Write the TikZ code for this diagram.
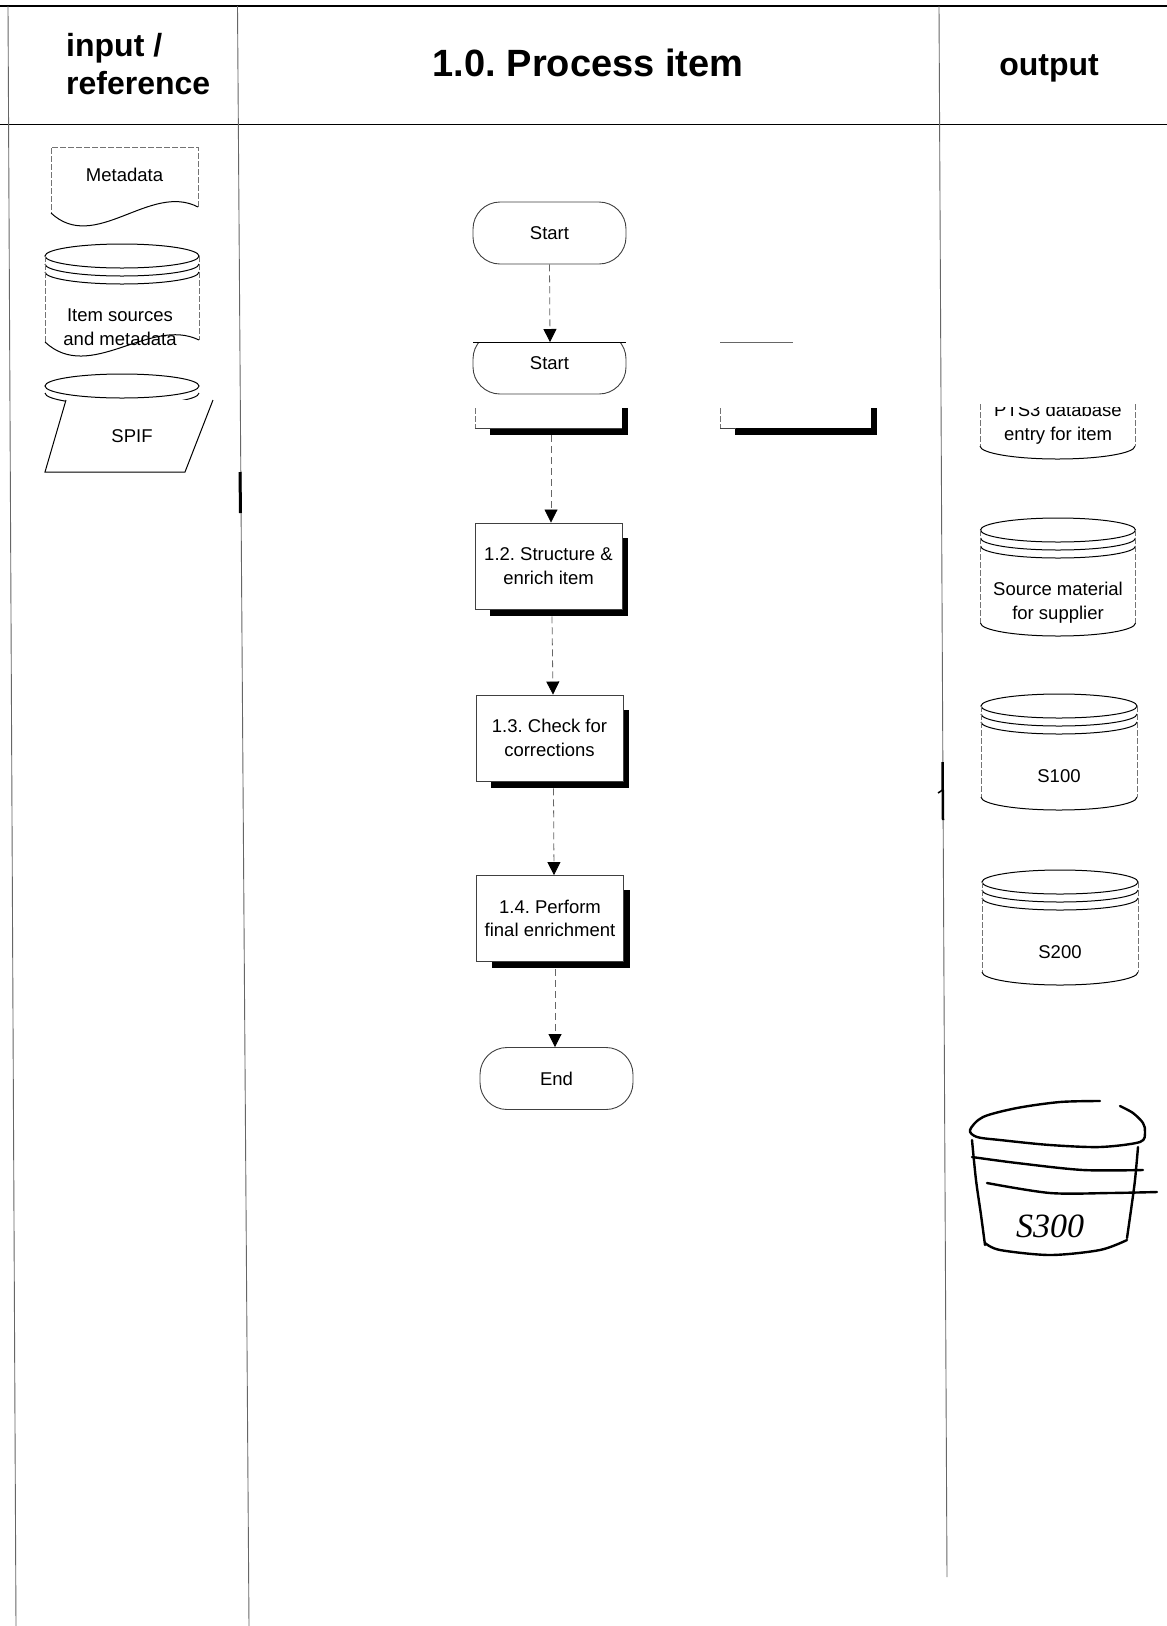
\documentclass[tikz,border=0pt]{standalone}
\usepackage{fontspec}
\setmainfont{Liberation Sans}
\newfontfamily\handfont{Liberation Serif}
\usetikzlibrary{arrows.meta,calc}
\frenchspacing

% storage drum: #1 centre x, #2 lid centre y, #3 base centre y, #4 half width
\newcommand\dbdrum[4]{%
  \draw[rim] (#1,#2) ellipse [x radius=#4pt, y radius=12pt];
  \draw[rim] ({#1-#4},{#2+8}) arc [start angle=180, end angle=360, x radius=#4pt, y radius=12pt];
  \draw[rim] ({#1-#4},{#2+16}) arc [start angle=180, end angle=360, x radius=#4pt, y radius=12pt];
  \draw[faint] ({#1-#4},#2) -- ({#1-#4},#3);
  \draw[faint] ({#1+#4},#2) -- ({#1+#4},#3);
  \draw[rim] ({#1-#4},#3) arc [start angle=180, end angle=360, x radius=#4pt, y radius=13pt];
}

\begin{document}
\begin{tikzpicture}[x=1pt,y=-1pt,
  lbl/.style={font=\fontsize{18.5}{24}\selectfont, align=center, inner sep=0pt},
  hdr/.style={font=\fontsize{32}{38.5}\selectfont\bfseries, inner sep=0pt},
  stepbox/.style={draw=black!75, line width=0.9pt, fill=white, minimum width=147pt,
    minimum height=86pt, inner sep=0pt, align=center, font=\fontsize{18.5}{23.5}\selectfont},
  term/.style={draw=black!75, line width=0.9pt, fill=white, rounded corners=27pt,
    minimum width=153pt, minimum height=62pt, inner sep=0pt, font=\fontsize{18.5}{23.5}\selectfont},
  flow/.style={draw=black!60, line width=0.8pt, dash pattern=on 7pt off 4pt,
    -{Triangle[length=13pt,width=13pt,color=black]}},
  rim/.style={draw=black, line width=1pt},
  faint/.style={draw=black!55, line width=0.8pt, dash pattern=on 6pt off 2pt},
  lane/.style={draw=black!60, line width=0.9pt},
  rule/.style={draw=black, line width=1.6pt},
  sketch/.style={draw=black, line width=2.4pt, line cap=round, line join=round},
]
\useasboundingbox (0,0) rectangle (1167,1626);

% ---- swimlane frame ----
\draw[rule] (0,6) -- (1167,6);
\draw[rule] (0,124.5) -- (1167,124.5);
\draw[lane] (8,6) -- (16,1626);
\draw[lane] (237.5,6) -- (249,1626);
\draw[lane] (939,6) -- (947,1577);
\draw[line width=3pt] (240,472) -- (240.5,513);
\draw[line width=2.5pt] (942.5,762) -- (943,820);
\draw[line width=1.5pt] (938,793) -- (942.5,790);

% ---- lane headings ----
\node[hdr, anchor=west, align=left] (hin) at (66,64) {input /\\reference};
\node[font=\fontsize{38}{38}\selectfont\bfseries, inner sep=0pt] (hproc) at (588,63) {1.0. Process item};
\node[hdr] (hout) at (1049,68) {output};

% ---- inputs ----
\draw[faint] (198,207) -- (198,147) -- (51,147) -- (51,213);
\draw[rim] (51,213) .. controls (95,254) and (150,182) .. (198,207);
\node[lbl] (meta) at (124.5,175) {Metadata};

\draw[rim] (122,256) ellipse [x radius=77pt, y radius=12pt];
\draw[rim] (45,264) arc [start angle=180, end angle=360, x radius=77pt, y radius=12pt];
\draw[rim] (45,272) arc [start angle=180, end angle=360, x radius=77pt, y radius=12pt];
\draw[faint] (45,256) -- (45,342);
\draw[faint] (199,256) -- (199,340);
\draw[rim] (45,342) .. controls (90,384) and (150,316) .. (199,340);
\node[lbl] (items) at (120,327) {Item sources\\and metadata};

\draw[rim] (122,386) ellipse [x radius=77pt, y radius=12pt];
\draw[rim] (45,393) arc [start angle=180, end angle=360, x radius=77pt, y radius=12pt];
\fill[white] (66,400) -- (213,400) -- (185,472) -- (45,472) -- cycle;
\draw[rim] (66,400) -- (45,472) -- (185,472) -- (213,400);
\node[lbl] (spif) at (132,436) {SPIF};

% ---- process flow ----
\node[term] (start) at (549.5,233) {Start};
\begin{scope}
  \clip (460,342) rectangle (640,400);
  \node[term] (start2) at (549.5,363) {Start};
\end{scope}
\draw[rim] (473,342) -- (626,342);
\coordinate (s2top) at (550,342);

% truncated boxes under the second terminal
\fill (490,408) rectangle (628,435);
\fill[white] (475,404) rectangle (622,428);
\draw[faint] (475,408) -- (475,428);
\draw[draw=black!75, line width=0.9pt] (475,428) -- (622,428);
\coordinate (pa) at (551,435);

\draw[black!60, line width=0.8pt] (720,342) -- (793,342);
\fill (735,408) rectangle (877,435);
\fill[white] (720,404) rectangle (871,428);
\draw[faint] (720,408) -- (720,428);
\draw[draw=black!75, line width=0.9pt] (720,428) -- (736,428);

% process steps with offset shadows
\fill (490,538) rectangle (628,616);
\node[stepbox] (s12) at (548.5,566) {1.2. Structure \&\\enrich item};
\fill (491,710) rectangle (629,788);
\node[stepbox] (s13) at (549.5,738) {1.3. Check for\\corrections};
\fill (491.5,890) rectangle (629.5,968);
\node[stepbox] (s14) at (550,918.5) {1.4. Perform\\final enrichment};
\node[term] (end) at (556.5,1078.5) {End};

\draw[flow] (start.south) -- (s2top);
\draw[flow] (pa) -- (pa |- s12.north);
\draw[flow] ($(s12.south)+(3.5,7)$) -- ($(s13.north)+(3.5,0)$);
\draw[flow] ($(s13.south)+(4,7)$) -- ($(s14.north)+(4,0)$);
\draw[flow] ($(s14.south)+(5,7)$) -- ($(end.north)+(-1.5,0)$);

% ---- outputs ----
\begin{scope}
  \clip (960,407) rectangle (1160,480);
  \node[lbl] (pts) at (1058,424) {PTS3 database\\entry for item};
\end{scope}
\draw[faint] (980,404) -- (980,446);
\draw[faint] (1135,404) -- (1135,446);
\draw[rim] (980,446) arc [start angle=180, end angle=360, x radius=77.5pt, y radius=13pt];

\dbdrum{1058}{530}{623}{77.5}
\node[lbl] (src) at (1058,603) {Source material\\for supplier};
\dbdrum{1059}{706}{797}{78}
\node[lbl] (s100) at (1059,776) {S100};
\dbdrum{1060}{882}{972}{78}
\node[lbl] (s200) at (1060,952) {S200};

% hand-drawn drum
\draw[sketch] plot[smooth] coordinates {(1100,1101) (1060,1102) (1017,1108) (983,1117) (970,1130)
  (977,1137) (1000,1140) (1050,1145) (1100,1147) (1140,1142) (1145,1132) (1143,1123) (1133,1113) (1120,1106)};
\draw[sketch] plot[smooth] coordinates {(972,1140) (976,1180) (981,1215) (985,1245)};
\draw[sketch] plot[smooth] coordinates {(1138,1147) (1135,1180) (1131,1210) (1127,1238)};
\draw[sketch] plot[smooth] coordinates {(972,1157) (1017,1163) (1083,1170) (1143,1170)};
\draw[sketch] plot[smooth] coordinates {(987,1183) (1050,1193) (1110,1193) (1157,1192)};
\draw[sketch] plot[smooth] coordinates {(985,1243) (1000,1250) (1050,1255) (1100,1250) (1127,1240)};
\node[font=\handfont\itshape\fontsize{34}{34}\selectfont, inner sep=0pt] (s300) at (1050,1226) {S300};
\end{tikzpicture}
\end{document}
